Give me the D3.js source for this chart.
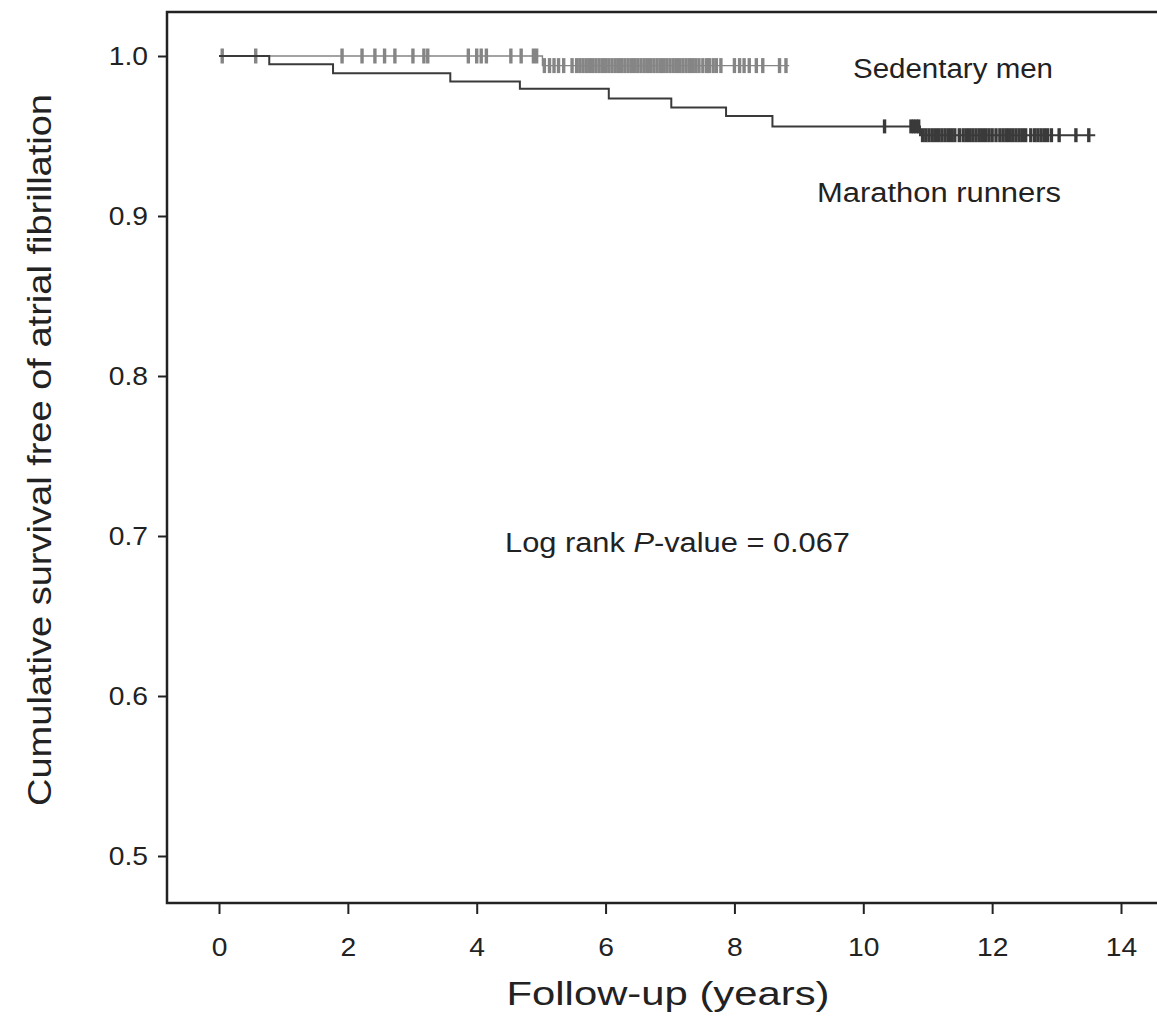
<!DOCTYPE html>
<html>
<head>
<meta charset="utf-8">
<script src="https://cdn.jsdelivr.net/npm/d3@7"></script>
<style>
  body { margin: 0; background: #fff; }
  text { font-family: 'Liberation Sans', Arial, sans-serif; fill: #222; }
</style>
</head>
<body>
<script>
// Kaplan-Meier steps
let marathonTimes = [0, 0.78, 1.77, 3.59, 4.67, 6.05, 7.02, 7.87, 8.59, 10.88]
let marathonSurv = [1.0, 0.9948, 0.9892, 0.984, 0.9796, 0.9734, 0.9678, 0.9625, 0.956, 0.9505]
let marathonEnd = 13.6
let marathonCensor = [10.33, 10.74, 10.78, 10.82, 10.86,
  10.92, 10.97, 11.02, 11.07, 11.12, 11.17, 11.22, 11.27, 11.32, 11.37, 11.42, 11.49,
  11.55, 11.6, 11.65, 11.7, 11.75, 11.8, 11.85, 11.9, 11.95, 12.0, 12.06,
  12.12, 12.17, 12.22, 12.27, 12.32, 12.37, 12.42, 12.47, 12.52, 12.6,
  12.66, 12.71, 12.76, 12.81, 12.86, 12.92, 13.04, 13.3, 13.5]

let sedentaryTimes = [0, 5.02]
let sedentarySurv = [1.0, 0.994]
let sedentaryEnd = 8.85
let sedentaryCensor = [0.05, 0.57, 1.91, 2.22, 2.42, 2.57, 2.73, 3.01, 3.18, 3.24,
  3.87, 4.0, 4.07, 4.15, 4.53, 4.69, 4.88, 4.93, 5.05, 5.13, 5.2, 5.27, 5.35, 5.48,
  5.55, 5.6, 5.65, 5.7, 5.75, 5.8, 5.85, 5.9, 5.95, 6.0, 6.05, 6.1, 6.15, 6.2,
  6.25, 6.3, 6.35, 6.4, 6.45, 6.5, 6.55, 6.6, 6.65, 6.7, 6.75, 6.8, 6.85, 6.9,
  6.95, 7.0, 7.05, 7.1, 7.15, 7.2, 7.25, 7.3, 7.35, 7.4, 7.45,
  7.51, 7.57, 7.61, 7.67, 7.72, 7.79, 8.0, 8.08, 8.15, 8.23, 8.34, 8.44, 8.7, 8.8]

let xTicks = [0, 2, 4, 6, 8, 10, 12, 14]
let yTicks = [0.5, 0.6, 0.7, 0.8, 0.9, 1.0]

let width = 1157
let height = 1024
let frame = { left: 167, top: 12, right: 1163, bottom: 903 }
let scaleX, scaleY, svg

function stepData (times, surv, end) {
  let pts = times.map((t, i) => [t, surv[i]])
  pts.push([end, surv[surv.length - 1]])
  return pts
}

function survAt (times, surv, t) {
  let i = d3.bisectRight(times, t) - 1
  return surv[Math.max(i, 0)]
}

function drawCurve (times, surv, end, censor, color, lineW, markH) {
  let line = d3.line()
    .x(d => scaleX(d[0]))
    .y(d => scaleY(d[1]))
    .curve(d3.curveStepAfter)

  svg.append('path')
    .datum(stepData(times, surv, end))
    .attr('d', line)
    .attr('fill', 'none')
    .attr('stroke', color)
    .attr('stroke-width', lineW)

  svg.append('g')
    .selectAll('line')
    .data(censor)
    .enter()
    .append('line')
    .attr('x1', d => scaleX(d))
    .attr('x2', d => scaleX(d))
    .attr('y1', d => scaleY(survAt(times, surv, d)) - markH)
    .attr('y2', d => scaleY(survAt(times, surv, d)) + markH)
    .attr('stroke', color)
    .attr('stroke-width', 3.4)
}

// tick labels in the picture are a little wider than Arial
function widen (sel) {
  sel.each(function () {
    let w = this.getComputedTextLength()
    d3.select(this).attr('textLength', w * 1.13).attr('lengthAdjust', 'spacingAndGlyphs')
  })
}

function init () {
  scaleX = d3.scaleLinear().domain([0, 14]).range([219, 1121])
  scaleY = d3.scaleLinear().domain([0.5, 1.0]).range([856, 56])

  svg = d3.select('body')
    .append('svg')
    .attr('width', width)
    .attr('height', height)

  // x axis
  let xAxis = svg.append('g')
    .attr('transform', 'translate(0,' + frame.bottom + ')')
    .call(d3.axisBottom(scaleX).tickValues(xTicks).tickSize(11).tickPadding(24).tickFormat(d3.format('d')))
  xAxis.select('.domain').remove()
  xAxis.selectAll('.tick line').attr('stroke', '#222').attr('stroke-width', 2)
  xAxis.selectAll('.tick text').attr('font-size', 25).attr('fill', '#222')
    .attr('font-family', "'Liberation Sans', Arial, sans-serif")
    .call(widen)

  // y axis
  let yAxis = svg.append('g')
    .attr('transform', 'translate(' + frame.left + ',0)')
    .call(d3.axisLeft(scaleY).tickValues(yTicks).tickSize(9).tickPadding(10).tickFormat(d3.format('.1f')))
  yAxis.select('.domain').remove()
  yAxis.selectAll('.tick line').attr('stroke', '#222').attr('stroke-width', 2)
  yAxis.selectAll('.tick text').attr('font-size', 25).attr('fill', '#222')
    .attr('font-family', "'Liberation Sans', Arial, sans-serif")
    .call(widen)

  // frame
  svg.append('rect')
    .attr('x', frame.left)
    .attr('y', frame.top)
    .attr('width', frame.right - frame.left)
    .attr('height', frame.bottom - frame.top)
    .attr('fill', 'none')
    .attr('stroke', '#222')
    .attr('stroke-width', 2.5)

  drawCurve(sedentaryTimes, sedentarySurv, sedentaryEnd, sedentaryCensor, '#858585', 1.4, 7.5)
  drawCurve(marathonTimes, marathonSurv, marathonEnd, marathonCensor, '#3a3a3a', 2, 7)

  // labels
  svg.append('text')
    .attr('x', 853).attr('y', 78)
    .attr('font-size', 27)
    .attr('textLength', 200).attr('lengthAdjust', 'spacingAndGlyphs')
    .text('Sedentary men')

  svg.append('text')
    .attr('x', 817).attr('y', 202)
    .attr('font-size', 27)
    .attr('textLength', 244).attr('lengthAdjust', 'spacingAndGlyphs')
    .text('Marathon runners')

  let lr = svg.append('text')
    .attr('x', 505).attr('y', 552)
    .attr('font-size', 27)
    .attr('textLength', 345).attr('lengthAdjust', 'spacingAndGlyphs')
  lr.append('tspan').text('Log rank ')
  lr.append('tspan').attr('font-style', 'italic').text('P')
  lr.append('tspan').text('-value = 0.067')

  svg.append('text')
    .attr('x', 668).attr('y', 1005)
    .attr('text-anchor', 'middle')
    .attr('font-size', 34)
    .attr('textLength', 323).attr('lengthAdjust', 'spacingAndGlyphs')
    .text('Follow-up (years)')

  svg.append('text')
    .attr('transform', 'translate(51,450) rotate(-90)')
    .attr('text-anchor', 'middle')
    .attr('font-size', 34)
    .attr('textLength', 712).attr('lengthAdjust', 'spacingAndGlyphs')
    .text('Cumulative survival free of atrial fibrillation')
}

init()
</script>
</body>
</html>
